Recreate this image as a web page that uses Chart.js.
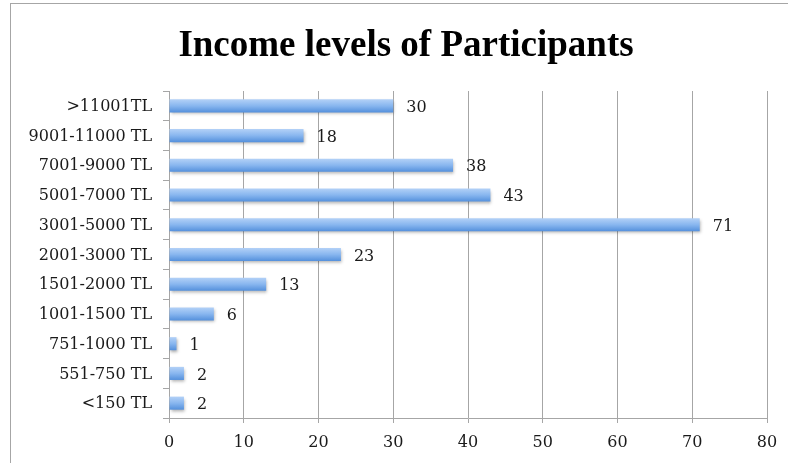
<!DOCTYPE html>
<html><head><meta charset="utf-8">
<script src="https://cdn.jsdelivr.net/npm/chart.js@4.4.1/dist/chart.umd.min.js"></script>
<style>html,body{margin:0;padding:0;background:#fff}#wrap{width:788px;height:463px}</style>
</head><body><div id="wrap"><canvas id="c" width="788" height="463"></canvas></div>
<script>
const categories = [">11001TL","9001-11000 TL","7001-9000 TL","5001-7000 TL","3001-5000 TL","2001-3000 TL","1501-2000 TL","1001-1500 TL","751-1000 TL","551-750 TL","<150 TL"];
const participants = [30,18,38,43,71,23,13,6,1,2,2];
const xTicks = [0,10,20,30,40,50,60,70,80];
const chartTitle = "Income levels of Participants";

const SERIF = "'DejaVu Serif', 'Liberation Serif', serif";
const TITLE_FONT = "bold 37px 'Liberation Serif', serif";
const BAR_PCT = 0.44;

function barFill(ctx){
  const chart = ctx.chart;
  const ys = chart.scales && chart.scales.y;
  const ca = chart.chartArea;
  if (!ys || !ca || ctx.dataIndex === undefined) return '#7eaeea';
  const yc = ys.getPixelForValue(ctx.dataIndex);
  if (!isFinite(yc)) return '#7eaeea';
  const step = (ca.bottom - ca.top) / categories.length;
  const h = step * BAR_PCT / 2;
  const g = chart.ctx.createLinearGradient(0, yc - h, 0, yc + h);
  g.addColorStop(0, '#b3d1f7');
  g.addColorStop(0.5, '#88b6ef');
  g.addColorStop(1, '#5490dc');
  return g;
}

const framePlugin = {
  id: 'frame',
  beforeDraw(chart){
    const c = chart.ctx;
    c.save();
    c.fillStyle = '#fff';
    c.fillRect(0,0,chart.width,chart.height);
    c.strokeStyle = '#a6a6a6';
    c.lineWidth = 1;
    c.strokeRect(10.5, 3.5, 900, 600);
    c.font = TITLE_FONT;
    c.fillStyle = '#000';
    c.textAlign = 'center';
    c.textBaseline = 'alphabetic';
    c.fillText(chartTitle, 406, 56);
    c.restore();
  }
};
const shadowPlugin = {
  id: 'shadow',
  beforeDatasetDraw(chart){
    const c = chart.ctx;
    c.save();
    c.shadowColor = 'rgba(0,0,0,0.3)';
    c.shadowOffsetX = 1;
    c.shadowOffsetY = 2;
    c.shadowBlur = 3;
  },
  afterDatasetDraw(chart){ chart.ctx.restore(); }
};
const labelPlugin = {
  id: 'vals',
  afterDatasetsDraw(chart){
    const c = chart.ctx;
    const meta = chart.getDatasetMeta(0);
    c.save();
    c.font = "16px " + SERIF;
    c.fillStyle = '#1a1a1a';
    c.textAlign = 'left';
    c.textBaseline = 'middle';
    meta.data.forEach((el, i) => {
      c.fillText(String(participants[i]), el.x + 13, el.y + 2);
    });
    c.restore();
  }
};

new Chart(document.getElementById('c'), {
  type: 'bar',
  data: {
    labels: categories,
    datasets: [{
      data: participants,
      backgroundColor: barFill,
      borderWidth: 0,
      barPercentage: BAR_PCT,
      categoryPercentage: 1.0
    }]
  },
  options: {
    indexAxis: 'y',
    responsive: false,
    animation: false,
    devicePixelRatio: 1,
    layout: { padding: { left: 10, right: 21, top: 91, bottom: 0 } },
    plugins: {
      legend: { display: false },
      tooltip: { enabled: false },
      title: { display: false }
    },
    scales: {
      x: {
        min: 0, max: 80,
        afterBuildTicks(s){ s.ticks = xTicks.map(v => ({ value: v })); },
        grid: { color: '#a6a6a6', lineWidth: 1, tickLength: 5, drawTicks: true },
        border: { color: '#a6a6a6' },
        ticks: { color: '#1a1a1a', font: { family: SERIF, size: 16 }, padding: 10, maxRotation: 0 },
        afterFit(s){ s.height = 45; }
      },
      y: {
        grid: { drawOnChartArea: false, offset: true, tickLength: 6, color: '#a6a6a6' },
        border: { color: '#a6a6a6' },
        ticks: { color: '#1a1a1a', font: { family: SERIF, size: 16 }, padding: 11, labelOffset: 1 },
        afterFit(s){ s.width = 159; }
      }
    }
  },
  plugins: [framePlugin, shadowPlugin, labelPlugin]
});
</script>
</body></html>
